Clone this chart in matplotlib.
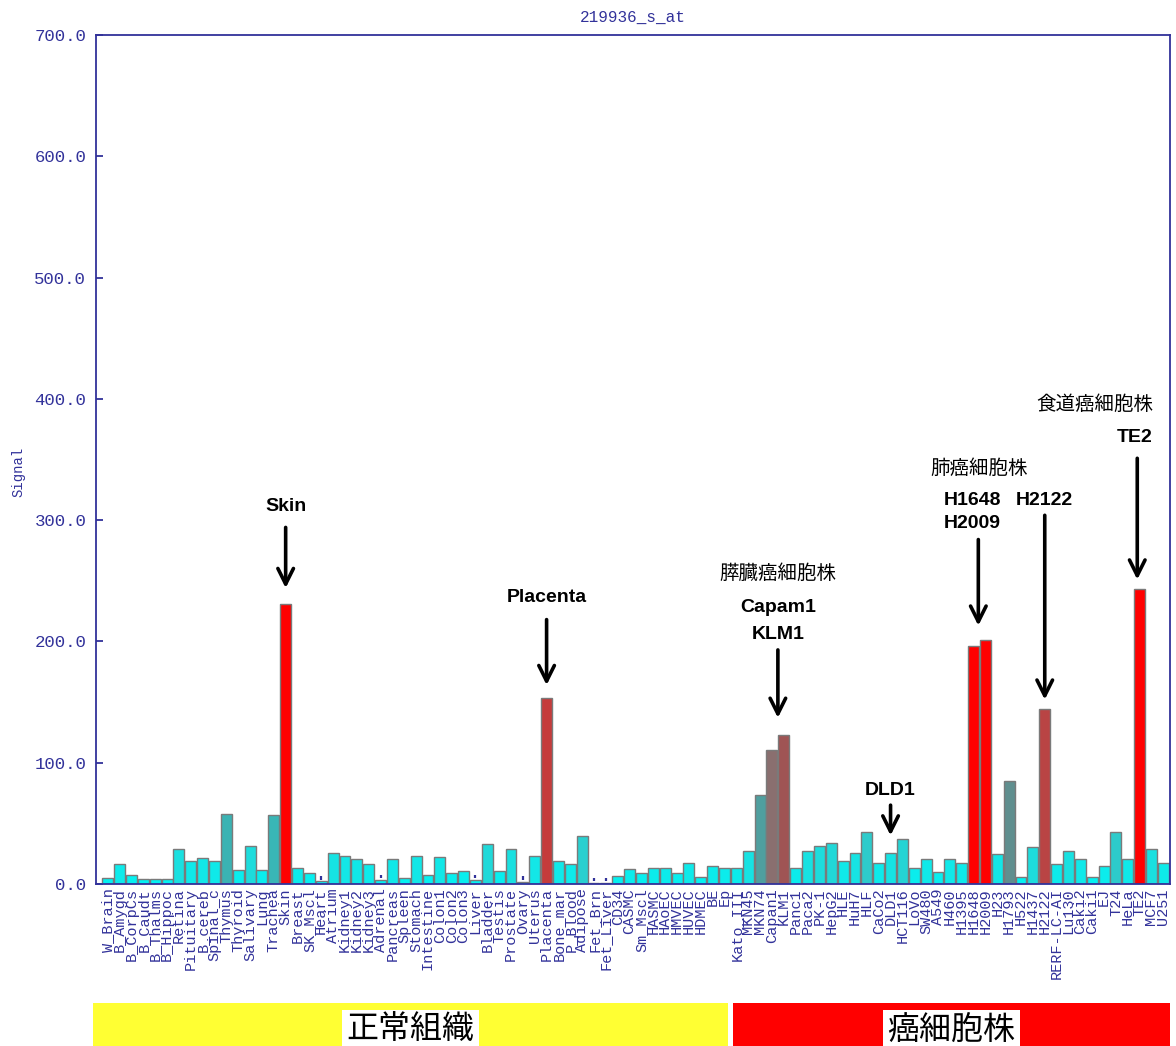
import matplotlib
matplotlib.use("Agg")
import matplotlib.pyplot as plt
import numpy as np
from matplotlib.colors import LinearSegmentedColormap, Normalize
from matplotlib.patches import Rectangle
import matplotlib.transforms as mtransforms

# ---------------- data ----------------
title = "219936_s_at"
ylabel = "Signal"

labels = [
    "W_Brain", "B_Amygd", "B_CorpCs", "B_Caudt", "B_Thalms", "B_Hippoc", "Retina",
    "Pituitary", "B_cereb", "Spinal_c", "Thymus", "Thyroid", "Salivary", "Lung",
    "Trachea", "Skin", "Breast", "SK_Mscl", "Heart", "Atrium", "Kidney1", "Kidney2",
    "Kidney3", "Adrenal", "Pancreas", "Spleen", "Stomach", "Intestine", "Colon1",
    "Colon2", "Colon3", "Liver", "Bladder", "Testis", "Prostate", "Ovary", "Uterus",
    "Placenta", "Bone_mar", "P_Blood", "Adipose", "Fet_Brn", "Fet_Liver", "CD34",
    "CASMC", "Sm_Mscl", "HASMC", "HAoEC", "HMVEC", "HUVEC", "HDMEC", "BE", "Ep",
    "Kato_III", "MKN45", "MKN74", "Capan1", "KLM1", "Panc1", "Paca2", "PK-1",
    "HepG2", "HLE", "HuH7", "HLF", "CaCo2", "DLD1", "HCT116", "LoVo", "SW480",
    "A549", "H460", "H1395", "H1648", "H2009", "H23", "H1793", "H522", "H1437",
    "H2122", "RERF-LC-AI", "Lu130", "Caki2", "Caki1", "EJ", "T24", "HeLa", "TE2",
    "MCF7", "U251",
]

values = [
    4.7, 16.2, 7.4, 4.4, 4.4, 4.4, 28.9,
    18.7, 21.7, 18.7, 58.0, 11.8, 31.6, 11.8,
    57.0, 231.0, 13.5, 8.8, 2.2, 25.8, 23.4, 20.9,
    16.2, 3.3, 20.6, 4.7, 23.0, 7.4, 22.0,
    8.8, 10.7, 3.3, 33.0, 10.7, 28.9, 1.9, 23.4,
    153.0, 19.2, 16.2, 39.9, 0.8, 0.8, 6.6,
    12.1, 8.8, 13.5, 13.5, 8.8, 17.6, 6.0, 14.8, 13.5,
    13.5, 27.2, 73.4, 110.5, 122.8, 13.5, 27.2, 31.3,
    34.1, 19.0, 25.8, 43.1, 17.0, 25.8, 37.1, 12.9, 20.3,
    10.2, 20.3, 17.0, 196.0, 201.0, 24.5, 84.9, 6.0, 30.8,
    144.0, 16.2, 27.5, 20.3, 6.0, 14.8, 43.1, 20.3, 243.0,
    28.9, 17.6,
]

absent_calls = ["Heart", "Adrenal", "Liver", "Ovary", "Fet_Brn", "Fet_Liver"]

normal_group = ("正常組織", "W_Brain", "Ep")
cancer_group = ("癌細胞株", "Kato_III", "U251")

annot_simple = [
    ("Skin", "Skin", 311, 294, 244),
    ("Placenta", "Placenta", 236, 218, 164),
]

# ---------------- style ----------------
BLUE = "#32329a"
MONO = "Liberation Mono"
fig = plt.figure(figsize=(11.76, 10.46), dpi=100)
ax = fig.add_axes([96 / 1176, 1 - 884 / 1046, (1170 - 96) / 1176, (884 - 35) / 1046])

x = np.arange(len(values))
cmap = LinearSegmentedColormap.from_list(
    "cy2red",
    [(0.0, "#00f4f4"), (0.12, "#14e6e6"), (0.22, "#2ecaca"), (0.30, "#3cb0b0"),
     (0.42, "#5f9090"), (0.55, "#897070"), (0.62, "#a05252"), (0.75, "#c04040"),
     (0.95, "#ff0000"), (1.0, "#ff0000")])
norm = Normalize(0, 200)
colors = [cmap(norm(v)) for v in values]

ax.bar(x, values, width=0.92, color=colors, edgecolor="#7a7a7a", linewidth=1.0, zorder=2)

for name in absent_calls:
    i = labels.index(name)
    ax.vlines(i, values[i] + 1.5, values[i] + 4.5, color=BLUE, lw=1.6, zorder=3)

ax.set_xlim(-0.99, 89.56)
ax.set_ylim(0, 700)
ax.set_yticks(np.arange(0, 701, 100))
ax.set_yticklabels([f"{t:.1f}" for t in np.arange(0, 701, 100)],
                   fontfamily=MONO, fontsize=12.5, color=BLUE)
ax.tick_params(axis="y", direction="in", length=5, width=1.3, color=BLUE, pad=7)
ax.set_xticks(x)
ax.set_xticklabels(labels, rotation=90, fontfamily=MONO, fontsize=11, color=BLUE)
ax.tick_params(axis="x", length=0, pad=3)
for s in ax.spines.values():
    s.set_color(BLUE)
    s.set_linewidth(1.3)

fig.text(633 / 1176, 1 - 17 / 1046, title, ha="center", va="center",
         fontfamily=MONO, fontsize=11.5, color=BLUE)
fig.text(18 / 1176, 1 - 472 / 1046, ylabel, ha="center", va="center", rotation=90,
         fontfamily=MONO, fontsize=10, color=BLUE)

# ---------------- annotations ----------------
BOLD = dict(fontfamily="Liberation Sans", fontweight="bold", fontsize=14, color="black",
            ha="center", va="center")
CJK = dict(fontfamily=["Noto Sans CJK JP", "DejaVu Sans"], fontsize=14, color="black",
           ha="center", va="center")
ARW = dict(arrowstyle="->", lw=2.6, color="black", mutation_scale=28,
           shrinkA=0, shrinkB=0)


def arrow(xpos, y0, y1):
    ax.annotate("", xy=(xpos, y1), xytext=(xpos, y0), arrowprops=ARW, zorder=4)


for txt, name, ty, a0, a1 in annot_simple:
    i = labels.index(name)
    ax.text(i, ty, txt, **BOLD)
    arrow(i, a0, a1)

ip = (labels.index("Capan1") + labels.index("KLM1")) / 2
ax.text(ip, 256, "膵臓癌細胞株", **CJK)
ax.text(ip, 228, "Capam1", **BOLD)
ax.text(ip, 206, "KLM1", **BOLD)
arrow(ip, 193, 137)

idl = labels.index("DLD1")
ax.text(idl, 77.5, "DLD1", **BOLD)
arrow(idl, 65, 40)

i1 = labels.index("H1648")
ax.text(i1 + 0.5, 343, "肺癌細胞株", **CJK)
ax.text(i1 - 0.1, 316.6, "H1648", **BOLD)
ax.text(i1 - 0.1, 297.6, "H2009", **BOLD)
arrow(i1 + 0.4, 284, 213)
i2 = labels.index("H2122")
ax.text(i2, 316.6, "H2122", **BOLD)
arrow(i2, 304, 152)

it = labels.index("TE2")
ax.text(it - 3.8, 395, "食道癌細胞株", **CJK)
ax.text(it - 0.4, 368.5, "TE2", **BOLD)
arrow(it - 0.2, 351, 251)

# ---------------- group bars ----------------
trans = mtransforms.blended_transform_factory(ax.transData, fig.transFigure)
ybot, ytop = 0.0, 1 - 1003 / 1046
for (gname, first, last), col, x0off, x1off in [
        (normal_group, "#ffff33", -1.25, 0.3),
        (cancer_group, "#ff0000", -0.3, 0.56)]:
    a = labels.index(first) + x0off
    b = labels.index(last) + x1off
    fig.patches.append(Rectangle((a, ybot), b - a, ytop - ybot, transform=trans,
                                 facecolor=col, edgecolor="none", zorder=1))
    fig.text((a + b) / 2, 1 - 1030 / 1046, gname, transform=trans, ha="center",
             va="center", fontsize=23, fontfamily=["Noto Sans CJK JP", "DejaVu Sans"],
             color="black",
             bbox=dict(facecolor="white", edgecolor="none", pad=3))

fig.savefig("out.png", dpi=100)
